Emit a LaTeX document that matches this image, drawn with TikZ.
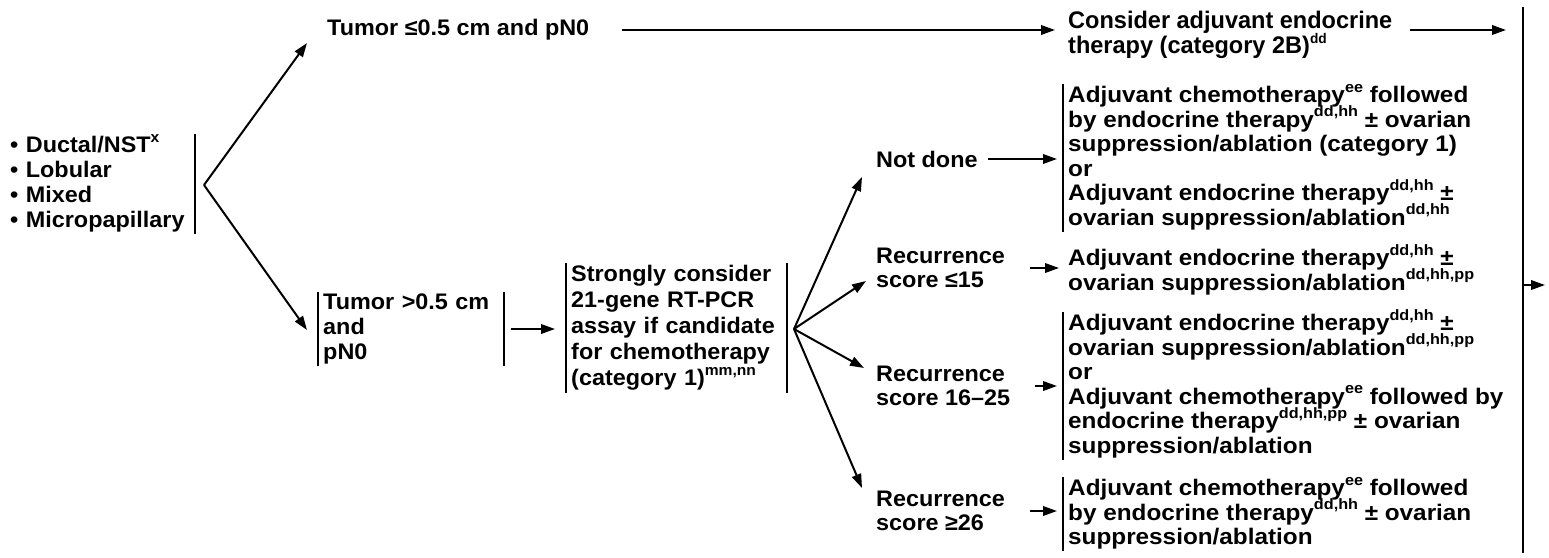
\documentclass[tikz,border=0pt]{standalone}
\usepackage{fontspec}
\setmainfont{Liberation Sans}[FakeStretch=1.04]
\newfontfamily\resfont{Liberation Sans}[FakeStretch=1.08]
\newfontfamily\consfont{Liberation Sans}[FakeStretch=0.98]
\usetikzlibrary{arrows.meta}
\newcommand{\mysup}[1]{\smash{\raisebox{0.46em}{\fontsize{15}{15}\selectfont #1}}}
\tikzset{
  lbl/.style={font=\bfseries\fontsize{22.5}{25}\selectfont, align=left, inner xsep=5pt, inner ysep=2pt},
  res/.style={font=\resfont\bfseries\fontsize{22.5}{24.5}\selectfont, align=left, inner xsep=5pt, inner ysep=2pt, anchor=north west},
  bar/.style={line width=2pt},
  arr/.style={line width=2pt, -{Triangle[length=14pt,width=9.5pt]}},
}
\begin{document}
\lineskiplimit=-20pt
\begin{tikzpicture}[x=1pt,y=-1pt]
\useasboundingbox (0,0) rectangle (1549,557);

% left list
\node[lbl, anchor=north west, text width=180pt] (lst) at (5,134)
  {• Ductal/NST\mysup{x}\\• Lobular\\• Mixed\\• Micropapillary};
\draw[bar] (lst.north east) -- (lst.south east);
\coordinate (v1) at (204,185);

% upper branch
\node[lbl, anchor=west] (t1) at (322,30) {Tumor ≤0.5 cm and pN0};
\coordinate (a1) at (307,43);
\draw[arr] (v1) -- (a1);

% lower branch
\node[lbl, anchor=west, text width=176pt] (tb) at (318,329) {Tumor >0.5 cm\\and\\pN0};
\draw[bar] (tb.north west) -- (tb.south west);
\draw[bar] (tb.north east) -- (tb.south east);
\coordinate (a2) at (307,330);
\draw[arr] (v1) -- (a2);

\node[lbl, anchor=west, text width=211pt, font=\bfseries\fontsize{22.5}{26}\selectfont] (sc) at (566,328)
  {Strongly consider\\21-gene RT-PCR\\assay if candidate\\for chemotherapy\\(category 1)\mysup{mm,nn}};
\draw[bar] (sc.north west) -- (sc.south west);
\draw[bar] (sc.north east) -- (sc.south east);
\draw[arr, shorten <=7pt, shorten >=11pt] (tb.east) -- (tb.east -| sc.west);

\coordinate (v2) at (794,329);

% score labels
\node[lbl, anchor=west] (nd) at (871,159) {Not done};
\node[lbl, anchor=west, font=\bfseries\fontsize{22.5}{24}\selectfont] (s1) at (871,268) {Recurrence\\score ≤15};
\node[lbl, anchor=west, font=\bfseries\fontsize{22.5}{24}\selectfont] (s2) at (871,386) {Recurrence\\score 16–25};
\node[lbl, anchor=west, font=\bfseries\fontsize{22.5}{24}\selectfont] (s3) at (871,511) {Recurrence\\score ≥26};
\coordinate (b1) at (862,177);
\coordinate (b2) at (866,281);
\coordinate (b3) at (864,368);
\coordinate (b4) at (862,488);
\draw[arr] (v2) -- (b1);
\draw[arr] (v2) -- (b2);
\draw[arr] (v2) -- (b3);
\draw[arr] (v2) -- (b4);

% results
\node[res, font=\consfont\bfseries\fontsize{24}{24.5}\selectfont] (cons) at (1063,9)
  {Consider adjuvant endocrine\\therapy (category 2B)\smash{\raisebox{0.42em}{\fontsize{14}{14}\selectfont dd}}};
\draw[arr, shorten <=28pt, shorten >=8pt] (t1.east) -- (t1.east -| cons.west);

\node[res] (r1) at (1063,84)
  {Adjuvant chemotherapy\mysup{ee} followed\\by endocrine therapy\mysup{dd,hh} ± ovarian\\suppression/ablation (category 1)\\or\\Adjuvant endocrine therapy\mysup{dd,hh} ±\\ovarian suppression/ablation\mysup{dd,hh}};
\draw[bar] (r1.north west) -- (r1.south west);

\node[res] (r2) at (1063,247)
  {Adjuvant endocrine therapy\mysup{dd,hh} ±\\ovarian suppression/ablation\mysup{dd,hh,pp}};

\node[res] (r3) at (1063,312)
  {Adjuvant endocrine therapy\mysup{dd,hh} ±\\ovarian suppression/ablation\mysup{dd,hh,pp}\\or\\Adjuvant chemotherapy\mysup{ee} followed by\\endocrine therapy\mysup{dd,hh,pp} ± ovarian\\suppression/ablation};
\draw[bar] (r3.north west) -- (r3.south west);

\node[res] (r4) at (1063,477)
  {Adjuvant chemotherapy\mysup{ee} followed\\by endocrine therapy\mysup{dd,hh} ± ovarian\\suppression/ablation};
\draw[bar] (r4.north west) -- (r4.south west);

\draw[arr, shorten <=5pt, shorten >=6pt] (nd.east) -- (nd.east -| r1.west);
\draw[arr, shorten <=20pt, shorten >=4pt] (s1.east) -- (s1.east -| r2.west);
\draw[arr, shorten <=20pt, shorten >=6pt] (s2.east) -- (s2.east -| r3.west);
\draw[arr, shorten <=20pt, shorten >=6pt] (s3.east) -- (s3.east -| r4.west);

% right bar and exit
\coordinate (rbt) at (1523,7);
\coordinate (rbb) at (1523,553);
\draw[bar] (rbt) -- (rbb);
\draw[arr, shorten <=12pt, shorten >=17pt] (cons.east |- t1.east) -- (rbt |- t1.east);
\coordinate (rm) at (1523,285);
\coordinate (rend) at (1545,285);
\draw[arr] (rm) -- (rend);
\end{tikzpicture}
\end{document}
